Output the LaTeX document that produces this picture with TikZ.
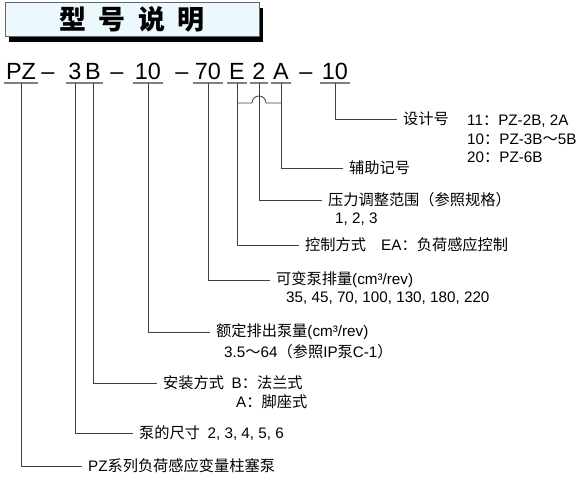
\documentclass[tikz,border=0pt]{standalone}
\usepackage{fontspec}
\setmainfont{Liberation Sans}
\newfontfamily\cjk{Noto Sans CJK SC}
\usetikzlibrary{calc, shadows}
\newcommand{\zh}[1]{{\cjk #1}}

\begin{document}
\begin{tikzpicture}[x=0.03cm, y=-0.03cm,
  title/.style={draw=gray!80!black, fill=cyan!8, minimum width=7.62cm, minimum height=0.93cm,
    font=\fontsize{23}{26}\selectfont\cjk\bfseries,
    drop shadow={shadow xshift=0.12cm, shadow yshift=-0.16cm, fill=black, opacity=1}},
  code/.style={anchor=base, font=\fontsize{20}{24}\selectfont, inner xsep=1.5pt, inner ysep=2.5pt, text depth=0pt},
  uline/.style={gray, line width=1.3pt},
  conn/.style={black!75, line width=0.7pt},
  lbl/.style={anchor=west, font=\fontsize{13}{15}\selectfont, inner xsep=5pt, inner ysep=1pt},
  sub/.style={anchor=west, font=\fontsize{13}{15}\selectfont, inner sep=0pt},
]
  \useasboundingbox (0,0) rectangle (583,484);

  % Titre
  \node[title] (ttl) at (132,19.5) {型\hspace{0.45em}号\hspace{0.45em}说\hspace{0.45em}明};

  % Code du modele
  \node[code] (pz) at (21,80) {PZ};
  \node[code] (d1) at (48,80) {–};
  \node[code] (sz) at (75,80) {3};
  \node[code] (mt) at (93,80) {B};
  \node[code] (d2) at (117,80) {–};
  \node[code] (dp) at (148,80) {10};
  \node[code] (d3) at (182,80) {–};
  \node[code] (vd) at (208,80) {70};
  \node[code] (ec) at (237,80) {E};
  \node[code] (pr) at (259,80) {2};
  \node[code] (ax) at (281,80) {A};
  \node[code] (d4) at (306,80) {–};
  \node[code] (dn) at (335,80) {10};
  \foreach \n in {pz,sz,mt,dp,vd,ec,pr,ax,dn}
    \draw[uline] (\n.south west) -- (\n.south east);

  % Libelles
  \node[lbl] (ldn) at (397,119) {\zh{设计号}};
  \node[sub] (s11) at (467,121) {11\zh{：}PZ-2B, 2A};
  \node[sub] (s10) at (467,139) {10\zh{：}PZ-3B\zh{～}5B};
  \node[sub] (s20) at (467,157) {20\zh{：}PZ-6B};
  \node[lbl] (lax) at (343,168) {\zh{辅助记号}};
  \node[lbl] (lpr) at (322,200) {\zh{压力调整范围（参照规格）}};
  \node[sub] (spr) at (335,219) {1, 2, 3};
  \node[lbl] (lec) at (299,245) {\zh{控制方式}\quad EA\zh{：负荷感应控制}};
  \node[lbl] (lvd) at (270,280) {\zh{可变泵排量}(cm³/rev)};
  \node[sub] (svd) at (286,298) {35, 45, 70, 100, 130, 180, 220};
  \node[lbl] (ldp) at (210,332) {\zh{额定排出泵量}(cm³/rev)};
  \node[sub] (sdp) at (224,352) {3.5\zh{～}64\zh{（参照}IP\zh{泵}C-1\zh{）}};
  \node[lbl] (lmt) at (157,383) {\zh{安装方式}\enspace B\zh{：法兰式}};
  \node[sub] (smt) at (236,402) {A\zh{：脚座式}};
  \node[lbl] (lsz) at (133,433) {\zh{泵的尺寸}\enspace 2, 3, 4, 5, 6};
  \node[lbl] (lpz) at (82,466) {PZ\zh{系列负荷感应变量柱塞泵}};

  % Liaisons
  \coordinate (hop) at (259,103);
  \draw[conn] (dn.south) |- (ldn.west);
  \draw[conn] (ax.south) |- (lax.west);
  \draw[conn] (pr.south) |- (lpr.west);
  \draw[conn] (ec.south) |- (lec.west);
  \draw[conn] (ec.south |- hop) -- ([xshift=-6pt]hop) arc[start angle=180, end angle=0, radius=6pt] -- (ax.south |- hop);
  \draw[conn] (vd.south) |- (lvd.west);
  \draw[conn] (dp.south) |- (ldp.west);
  \draw[conn] (mt.south) |- (lmt.west);
  \draw[conn] (sz.south) |- (lsz.west);
  \draw[conn] (pz.south) |- (lpz.west);
\end{tikzpicture}
\end{document}
